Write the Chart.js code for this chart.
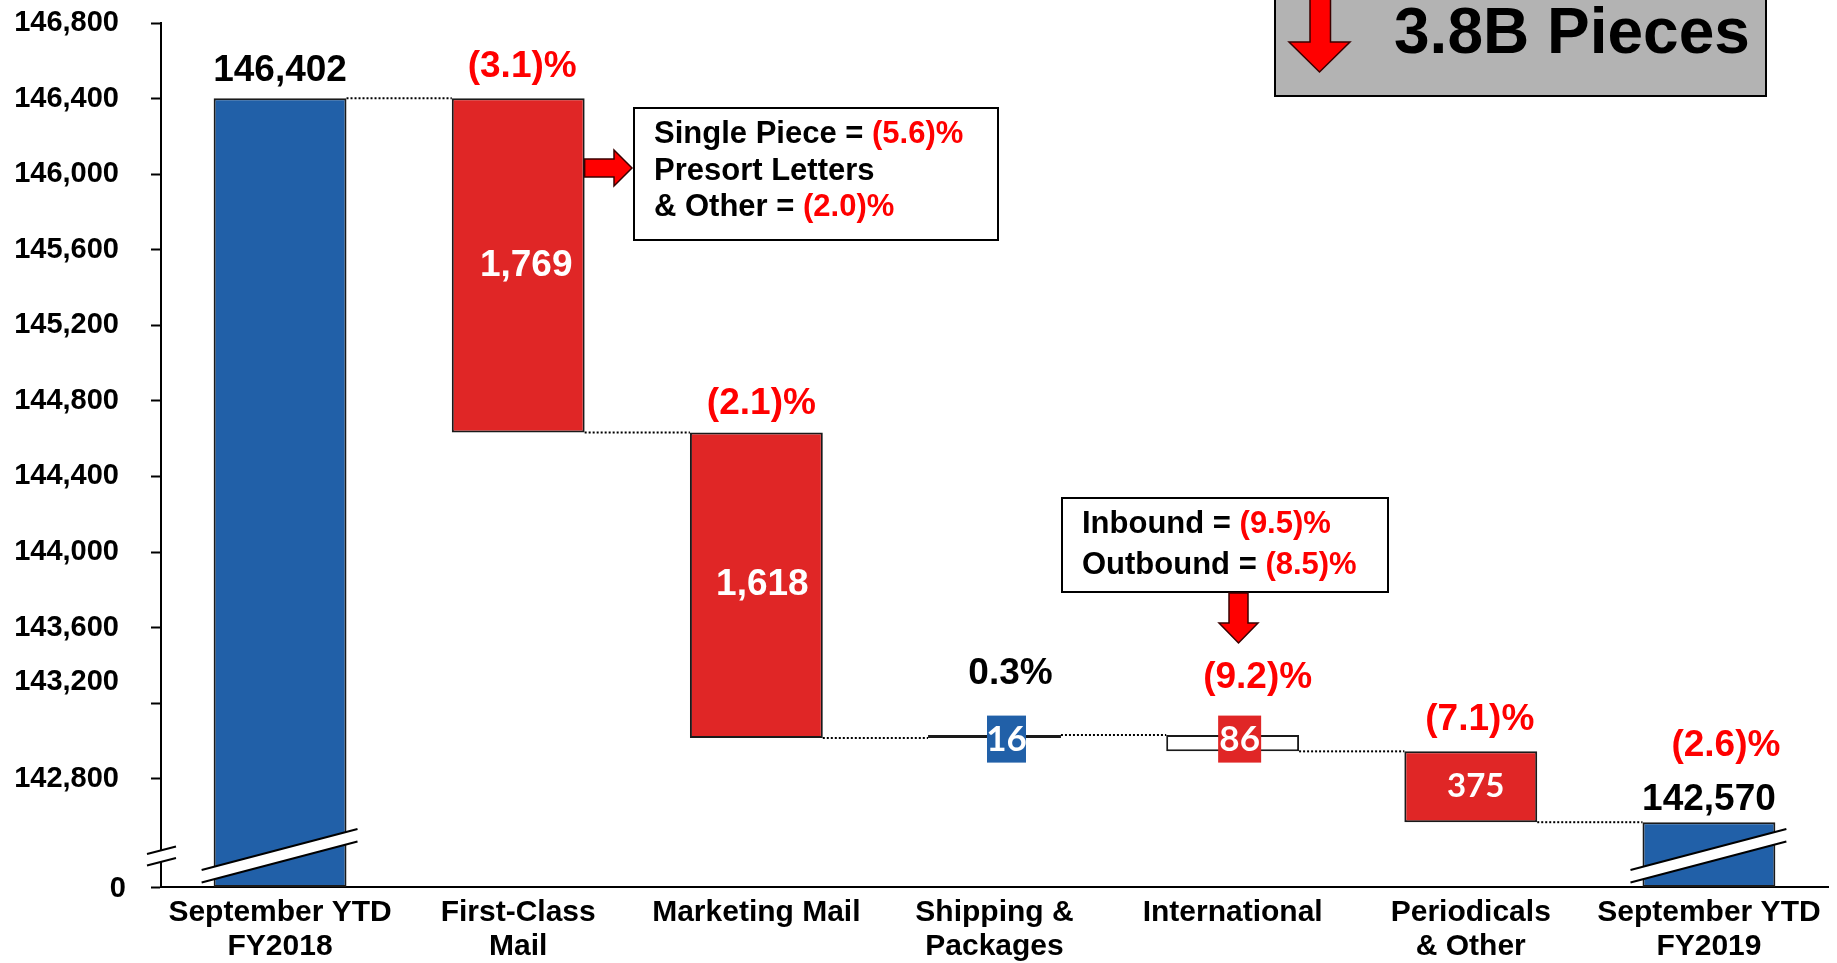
<!DOCTYPE html>
<html>
<head>
<meta charset="utf-8">
<script src="https://cdn.jsdelivr.net/npm/chart.js@4.4.1/dist/chart.umd.min.js"></script>
<style>
    html, body { margin: 0; padding: 0; background: #fff; }
    #contenedor { width: 1837px; height: 963px; }
</style>
</head>
<body>
<div id="contenedor"><canvas id="chartOne"></canvas></div>
<script>
// datos del grafico (millones de piezas)
let categorias = [['September YTD', 'FY2018'], ['First-Class', 'Mail'], 'Marketing Mail', ['Shipping &', 'Packages'], 'International', ['Periodicals', '& Other'], ['September YTD', 'FY2019']];
let inicio = 146402;
let cambios = [-1769, -1618, 16, -86, -375];
let fin = 142570;
let porcentajes = ['', '(3.1)%', '(2.1)%', '0.3%', '(9.2)%', '(7.1)%', '(2.6)%'];
let ticksY = [142800, 143200, 143600, 144000, 144400, 144800, 145200, 145600, 146000, 146400, 146800];
let yMin = 142227; // fondo del eje cortado, se rotula "0"

const FUENTE = '"Liberation Sans", Arial, sans-serif';
const FUENTE2 = 'Lato, "Open Sans", sans-serif';
const AZUL = '#2160a8';
const ROJO = '#e02626';

// barras flotantes de la cascada
let barras = [[yMin, inicio]];
let niveles = [inicio];
let nivel = inicio;
cambios.forEach(c => {
    let nuevo = nivel + c;
    barras.push([Math.min(nivel, nuevo), Math.max(nivel, nuevo)]);
    niveles.push(nuevo);
    nivel = nuevo;
});
barras.push([yMin, fin]);

let colores = [AZUL, ROJO, ROJO, AZUL, '#ffffff', ROJO, AZUL];

function texto(ctx, str, x, y, size, color, family, align) {
    ctx.font = 'bold ' + size + 'px ' + (family || FUENTE);
    ctx.fillStyle = color;
    ctx.textAlign = align || 'center';
    ctx.textBaseline = 'middle';
    ctx.fillText(str, x, y);
}

function textoMixto(ctx, partes, x, y, size) {
    ctx.font = 'bold ' + size + 'px ' + FUENTE;
    ctx.textAlign = 'left';
    ctx.textBaseline = 'middle';
    let cx = x;
    partes.forEach(p => {
        ctx.fillStyle = p[1];
        ctx.fillText(p[0], cx, y);
        cx += ctx.measureText(p[0]).width;
    });
}

function flecha(ctx, puntos) {
    ctx.beginPath();
    ctx.moveTo(puntos[0][0], puntos[0][1]);
    for (let i = 1; i < puntos.length; i++) ctx.lineTo(puntos[i][0], puntos[i][1]);
    ctx.closePath();
    ctx.fillStyle = '#ff0000';
    ctx.fill();
    ctx.strokeStyle = '#3a0000';
    ctx.lineWidth = 1.5;
    ctx.stroke();
}

function recuadro(ctx, x, y, w, h, relleno) {
    ctx.fillStyle = relleno;
    ctx.fillRect(x, y, w, h);
    ctx.strokeStyle = '#000';
    ctx.lineWidth = 2;
    ctx.strokeRect(x, y, w, h);
}

function corte(ctx, x1, x2, yb, caida1, caida2, grueso) {
    // banda blanca inclinada con bordes negros
    ctx.beginPath();
    ctx.moveTo(x1, yb - caida1);
    ctx.lineTo(x2, yb - caida2);
    ctx.lineTo(x2, yb - caida2 + grueso);
    ctx.lineTo(x1, yb - caida1 + grueso);
    ctx.closePath();
    ctx.fillStyle = '#fff';
    ctx.fill();
    ctx.strokeStyle = '#000';
    ctx.lineWidth = 2;
    ctx.beginPath();
    ctx.moveTo(x1, yb - caida1);
    ctx.lineTo(x2, yb - caida2);
    ctx.moveTo(x1, yb - caida1 + grueso);
    ctx.lineTo(x2, yb - caida2 + grueso);
    ctx.stroke();
}

const anotaciones = {
    id: 'anotaciones',
    afterDatasetsDraw(chart) {
        const ctx = chart.ctx;
        const meta = chart.getDatasetMeta(0).data;
        const escalaY = chart.scales.y;
        const area = chart.chartArea;
        ctx.save();

        let caja = meta.map(b => ({
            x: b.x,
            izq: b.x - b.width / 2,
            der: b.x + b.width / 2,
            arriba: Math.min(b.y, b.base),
            abajo: Math.max(b.y, b.base)
        }));

        // lineas punteadas entre barras
        ctx.strokeStyle = '#000';
        ctx.lineWidth = 2;
        ctx.setLineDash([2, 2]);
        niveles.forEach((v, i) => {
            let py = escalaY.getPixelForValue(v);
            ctx.beginPath();
            ctx.moveTo(caja[i].der, py);
            ctx.lineTo(caja[i + 1].izq, py);
            ctx.stroke();
        });
        ctx.setLineDash([]);

        // cortes del eje y de las barras totales
        corte(ctx, area.left - 14, area.left + 15, area.bottom, 33, 40.5, 11.5);
        [0, 6].forEach(i => {
            corte(ctx, caja[i].izq - 12, caja[i].der + 11, area.bottom, 17, 58, 12.5);
        });

        // rotulos del eje colocados a mano
        texto(ctx, '143,200', area.left - 42, escalaY.getPixelForValue(143200) - 21, 29, '#000', FUENTE, 'right');
        texto(ctx, '0', area.left - 35, area.bottom + 2, 29, '#000', FUENTE, 'right');

        // totales
        texto(ctx, inicio.toLocaleString('en-US'), caja[0].x, caja[0].arriba - 27, 37, '#000');
        texto(ctx, fin.toLocaleString('en-US'), caja[6].x, caja[6].arriba - 22, 37, '#000');

        // valores dentro de las barras
        let etiquetas = cambios.map(c => Math.abs(c).toLocaleString('en-US'));
        let medio = i => (caja[i].arriba + caja[i].abajo) / 2;
        texto(ctx, etiquetas[0], caja[1].x + 8, medio(1), 37, '#fff');
        texto(ctx, etiquetas[1], caja[2].x + 6, medio(2), 37, '#fff');
        texto(ctx, etiquetas[4], caja[5].x + 5, medio(5), 33, '#fff', FUENTE2);

        // valores pequenos en recuadro
        [[3, etiquetas[2], AZUL, 39, 12], [4, etiquetas[3], ROJO, 43, 7]].forEach(e => {
            let b = caja[e[0]];
            let cx = b.x + e[4];
            let cy = b.arriba + 4;
            ctx.fillStyle = e[2];
            ctx.fillRect(cx - e[3] / 2, cy - 23.5, e[3], 47);
            texto(ctx, e[1], cx, cy + 1, 35, '#fff', FUENTE2);
        });

        // porcentajes
        let despl = [null, [4, 31], [5, 29], [16, 61], [25, 57], [9, 32], [17, 76]];
        porcentajes.forEach((p, i) => {
            if (!p) return;
            let color = p.startsWith('(') ? '#ff0000' : '#000';
            texto(ctx, p, caja[i].x + despl[i][0], caja[i].arriba - despl[i][1], 37, color);
        });

        // recuadro First-Class
        recuadro(ctx, 634, 108, 364, 132, '#fff');
        textoMixto(ctx, [['Single Piece = ', '#000'], ['(5.6)%', '#ff0000']], 654, 134, 31);
        textoMixto(ctx, [['Presort Letters', '#000']], 654, 171, 31);
        textoMixto(ctx, [['& Other = ', '#000'], ['(2.0)%', '#ff0000']], 654, 207, 31);
        flecha(ctx, [[caja[1].der, 159], [614, 159], [614, 150], [632, 168], [614, 186], [614, 177], [caja[1].der, 177]]);

        // recuadro International
        recuadro(ctx, 1062, 498, 326, 94, '#fff');
        textoMixto(ctx, [['Inbound = ', '#000'], ['(9.5)%', '#ff0000']], 1082, 524, 31);
        textoMixto(ctx, [['Outbound = ', '#000'], ['(8.5)%', '#ff0000']], 1082, 565, 31);
        flecha(ctx, [[1229, 593], [1248, 593], [1248, 623], [1258, 623], [1238.5, 643], [1219, 623], [1229, 623]]);

        // recuadro gris superior
        recuadro(ctx, 1275, -4, 491, 100, '#b3b3b3');
        flecha(ctx, [[1310, -4], [1330.5, -4], [1330.5, 42], [1350, 42], [1319.5, 72], [1289, 42], [1310, 42]]);
        ctx.font = 'bold 64px ' + FUENTE;
        ctx.fillStyle = '#000';
        ctx.textAlign = 'left';
        ctx.textBaseline = 'alphabetic';
        ctx.fillText('3.8B Pieces', 1394, 53);

        ctx.restore();
    }
};

var ctxOne = document.getElementById('chartOne').getContext('2d');
var chartOne = new Chart(ctxOne, {
    type: 'bar',
    data: {
        labels: categorias,
        datasets: [{
            data: barras,
            backgroundColor: colores,
            borderColor: '#1a1a1a',
            borderWidth: 2,
            borderSkipped: false,
            categoryPercentage: 1,
            barPercentage: 0.558
        }]
    },
    options: {
        responsive: true,
        maintainAspectRatio: false,
        animation: false,
        layout: {
            padding: { top: 23, right: 9, bottom: 0, left: 0 }
        },
        plugins: {
            legend: { display: false },
            tooltip: { enabled: false }
        },
        scales: {
            x: {
                offset: true,
                grid: { display: false, drawTicks: false },
                border: { display: true, color: '#000', width: 2 },
                ticks: {
                    color: '#000',
                    padding: 9,
                    maxRotation: 0,
                    autoSkip: false,
                    font: { family: FUENTE, weight: 'bold', size: 30, lineHeight: 1.12 }
                },
                afterFit: function(scale) {
                    scale.height = 76;
                    scale.paddingLeft = 0;
                    scale.paddingRight = 0;
                }
            },
            y: {
                min: yMin,
                max: 146800,
                grid: { drawOnChartArea: false, drawTicks: true, tickLength: 10, tickColor: '#000', tickWidth: 2 },
                border: { display: true, color: '#000', width: 2 },
                ticks: {
                    color: '#000',
                    padding: 32,
                    font: { family: FUENTE, weight: 'bold', size: 29 },
                    callback: function(v) {
                        if (v === yMin || v === 143200) return '';
                        return v.toLocaleString('en-US');
                    }
                },
                afterBuildTicks: function(scale) {
                    scale.ticks = [yMin].concat(ticksY).map(v => ({ value: v }));
                },
                afterFit: function(scale) {
                    scale.width = 161;
                    scale.paddingTop = 0;
                    scale.paddingBottom = 0;
                }
            }
        }
    },
    plugins: [anotaciones]
});
</script>
</body>
</html>
